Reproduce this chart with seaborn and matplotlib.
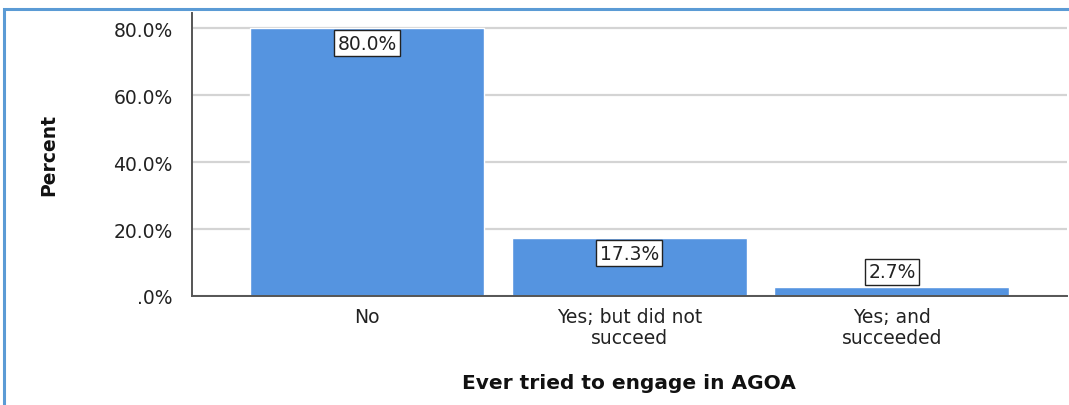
import matplotlib
matplotlib.use("Agg")
import matplotlib.pyplot as plt
from matplotlib.patches import Rectangle
import seaborn as sns
import pandas as pd

categories = ["No", "Yes; but did not\nsucceed", "Yes; and\nsucceeded"]
percents = [80.0, 17.3, 2.7]
y_ticks = [0, 20, 40, 60, 80]
y_tick_labels = [".0%", "20.0%", "40.0%", "60.0%", "80.0%"]

sns.set_theme(style="white")
plt.rcParams["font.family"] = ["DejaVu Sans"]

df = pd.DataFrame({"category": categories, "percent": percents})

fig = plt.figure(figsize=(10.69, 4.06), dpi=100)
ax = fig.add_axes([0.1796, 0.2685, 0.8184, 0.697])

ax.yaxis.grid(True, color="#d4d4d4", linewidth=1.6)
ax.set_axisbelow(True)

sns.barplot(data=df, x="category", y="percent", color="#5594e0",
            saturation=1, width=0.895, ax=ax, zorder=2)

ax.set_xlim(-0.667, 2.667)
ax.set_ylim(0, 84.5)
ax.set_yticks(y_ticks)
ax.set_yticklabels(y_tick_labels, fontsize=13.5, color="#222222")
ax.tick_params(axis="y", length=0, pad=14)
ax.tick_params(axis="x", length=0, pad=8, labelsize=13.5, labelcolor="#222222")
for lbl in ax.get_xticklabels():
    lbl.set_linespacing(1.12)

for side in ("top", "right"):
    ax.spines[side].set_visible(False)
for side in ("left", "bottom"):
    ax.spines[side].set_color("#555555")
    ax.spines[side].set_linewidth(1.4)
ax.spines["left"].set_bounds(0, 84.5)

ax.set_xlabel("Ever tried to engage in AGOA", fontsize=14.5, fontweight="bold",
              color="#111111", labelpad=19)
ax.set_ylabel("Percent", fontsize=13.5, fontweight="bold", color="#111111")
ax.yaxis.set_label_coords(-0.153, 0.5)

# value labels: inside the bar top when it fits, otherwise above it
for i, v in enumerate(percents):
    offset = -11 if v > 8 else 11
    ax.annotate(f"{v:.1f}%", xy=(i, v), xytext=(0, offset),
                textcoords="offset points", ha="center", va="center",
                fontsize=13.5, color="#222222", zorder=5,
                bbox=dict(boxstyle="square,pad=0.18", fc="white",
                          ec="#222222", lw=1.0))

# outer frame
fig.patches.append(Rectangle((4 / 1069, -0.1), 1.2, 1 - 10 / 406 + 0.1,
                             transform=fig.transFigure, fill=False,
                             edgecolor="#5b9bd5", linewidth=2.2,
                             clip_on=False))

fig.savefig("out.png", dpi=100)
